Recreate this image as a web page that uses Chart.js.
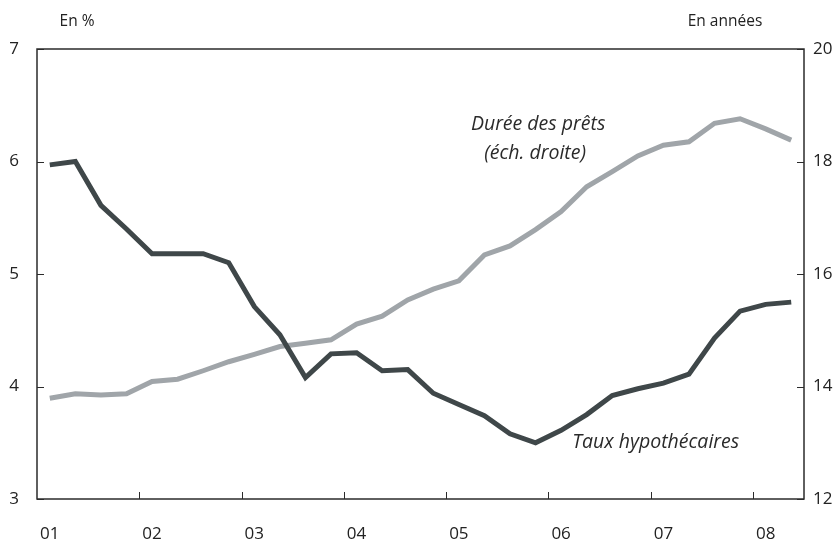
<!DOCTYPE html>
<html>
<head>
<meta charset="utf-8">
<script src="https://cdn.jsdelivr.net/npm/chart.js@4/dist/chart.umd.min.js"></script>
<style>
  body { margin: 0; background: #fff; }
  #wrap { width: 840px; height: 539px; }
</style>
</head>
<body>
<div id="wrap"><canvas id="chart"></canvas></div>
<script>
// quarterly data, 2001T1 to 2008T2
const quarters = [];
for (let y = 1; y <= 8; y++) {
    for (let q = 1; q <= 4; q++) {
        if (y === 8 && q > 2) break;
        quarters.push('0' + y + 'T' + q);
    }
}
const yearLabels = ['01', '02', '03', '04', '05', '06', '07', '08'];

// Taux hypothécaires (en %, échelle de gauche)
const taux = [5.97, 6.00, 5.61, 5.40, 5.18, 5.18, 5.18, 5.10, 4.71, 4.46,
              4.08, 4.29, 4.30, 4.14, 4.15, 3.94, 3.84, 3.74, 3.58, 3.50,
              3.61, 3.75, 3.92, 3.98, 4.03, 4.11, 4.43, 4.67, 4.73, 4.75];

// Durée des prêts (en années, échelle de droite)
const duree = [13.79, 13.87, 13.85, 13.87, 14.09, 14.13, 14.28, 14.44, 14.57, 14.71,
               14.77, 14.83, 15.11, 15.25, 15.54, 15.73, 15.88, 16.34, 16.50, 16.79,
               17.11, 17.55, 17.82, 18.10, 18.29, 18.35, 18.68, 18.76, 18.58, 18.38];

const FONT = '"Open Sans", Lato, sans-serif';
const AXIS = '#2b2b2b';

// frame, inner tick marks and text labels
const decor = {
    id: 'decor',
    afterDraw(chart) {
        const ctx = chart.ctx;
        const a = chart.chartArea;
        const x = chart.scales.x, yl = chart.scales.y, yr = chart.scales.y2;
        ctx.save();
        ctx.strokeStyle = AXIS;
        ctx.lineWidth = 1.5;
        ctx.strokeRect(a.left, a.top, a.right - a.left, a.bottom - a.top);
        ctx.lineWidth = 1;
        ctx.beginPath();
        yl.ticks.forEach(t => {
            const py = Math.round(yl.getPixelForValue(t.value)) + 0.5;
            ctx.moveTo(a.left, py); ctx.lineTo(a.left + 7, py);
        });
        yr.ticks.forEach(t => {
            const py = Math.round(yr.getPixelForValue(t.value)) + 0.5;
            ctx.moveTo(a.right, py); ctx.lineTo(a.right - 7, py);
        });
        for (let i = 4; i < quarters.length; i += 4) {
            const px = Math.round((x.getPixelForValue(i - 1) + x.getPixelForValue(i)) / 2) + 0.5;
            ctx.moveTo(px, a.bottom); ctx.lineTo(px, a.bottom - 7);
        }
        ctx.stroke();

        ctx.fillStyle = '#222';
        ctx.textAlign = 'center';
        ctx.textBaseline = 'middle';
        ctx.font = '15.5px ' + FONT;
        ctx.fillText('En %', 77, 22);
        ctx.fillText('En années', 725, 22);

        ctx.fillStyle = '#2a2a2a';
        ctx.font = 'italic 19.5px ' + FONT;
        const cx = x.getPixelForValue(19.1);
        ctx.fillText('Durée des prêts', cx, yl.getPixelForValue(6.33));
        ctx.fillText('(éch. droite)', cx - 3, yl.getPixelForValue(6.07));
        ctx.fillText('Taux hypothécaires', x.getPixelForValue(23.7), yl.getPixelForValue(3.5));
        ctx.restore();
    }
};

const ctx = document.getElementById('chart').getContext('2d');
const chart = new Chart(ctx, {
    type: 'line',
    data: {
        labels: quarters,
        datasets: [
            {
                label: 'Taux hypothécaires',
                data: taux,
                yAxisID: 'y',
                borderColor: '#3f4749',
                borderWidth: 5,
                pointRadius: 0,
                tension: 0,
                borderJoinStyle: 'miter'
            },
            {
                label: 'Durée des prêts',
                data: duree,
                yAxisID: 'y2',
                borderColor: '#a0a5a9',
                borderWidth: 5,
                pointRadius: 0,
                tension: 0,
                borderJoinStyle: 'miter'
            }
        ]
    },
    options: {
        responsive: true,
        maintainAspectRatio: false,
        animation: false,
        layout: { padding: { top: 49 } },
        plugins: {
            legend: { display: false },
            tooltip: { enabled: false }
        },
        scales: {
            x: {
                offset: true,
                grid: { display: false, drawTicks: false, tickLength: 0 },
                border: { display: false },
                ticks: {
                    autoSkip: false,
                    maxRotation: 0,
                    padding: 25,
                    color: '#222',
                    font: { family: FONT, size: 17 },
                    callback: (v, i) => i % 4 === 0 ? yearLabels[i / 4] : ''
                },
                afterFit: s => { s.height = 40; }
            },
            y: {
                position: 'left',
                min: 3, max: 7,
                grid: { display: false, drawTicks: false, tickLength: 0 },
                border: { display: false },
                ticks: { stepSize: 1, padding: 18, color: '#222', font: { family: FONT, size: 17 } },
                afterFit: s => { s.width = 37; }
            },
            y2: {
                position: 'right',
                min: 12, max: 20,
                grid: { display: false, drawTicks: false, tickLength: 0 },
                border: { display: false },
                ticks: { stepSize: 2, padding: 9, color: '#222', font: { family: FONT, size: 17 } },
                afterFit: s => { s.width = 36; }
            }
        }
    },
    plugins: [decor]
});
</script>
</body>
</html>
